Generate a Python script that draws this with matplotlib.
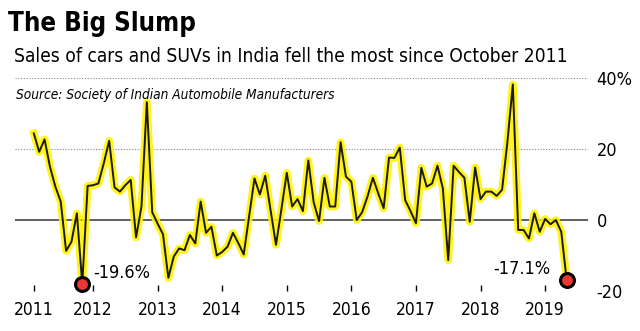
import numpy as np
import matplotlib
matplotlib.use("Agg")
import matplotlib.pyplot as plt

# Monthly year-on-year change in car & SUV sales, Jan 2011 - Apr 2019 (%)
sales_change = [
    24.4, 19.2, 22.7, 15.0, 9.4, 5.2, -8.7, -6.1, 1.9, -18.0,
    9.6, 9.8, 10.3, 16.0, 22.3, 9.2, 8.0, 9.8, 11.3, -4.9,
    3.8, 33.2, 2.2, -1.0, -4.0, -16.3, -10.3, -8.0, -8.5, -4.2,
    -6.6, 5.2, -3.6, -1.9, -10.0, -9.0, -7.5, -3.6, -6.5, -9.7,
    1.0, 11.7, 7.2, 12.5, 2.7, -7.0, 3.0, 13.3, 3.8, 5.9,
    2.5, 16.8, 5.0, -0.3, 11.9, 3.8, 3.8, 21.9, 12.2, 10.8,
    0.0, 2.2, 6.6, 11.9, 7.5, 3.3, 17.6, 17.5, 20.4, 5.6,
    2.5, -0.9, 14.7, 9.4, 10.3, 15.3, 8.9, -11.3, 15.3, 13.5,
    11.9, -0.5, 14.8, 5.9, 8.0, 8.0, 6.8, 8.5, 22.0, 38.2,
    -2.8, -2.8, -5.2, 1.9, -3.3, 0.3, -1.2, 0.0, -3.3, -16.8,
]
months = np.arange(len(sales_change))

year_labels = ["2011", "2012", "2013", "2014", "2015", "2016", "2017", "2018", "2019"]
year_ticks = [0, 11, 23, 35, 47, 59, 71, 83, 95]

y_ticks = [40, 20, 0, -20]
y_labels = ["40%", "20", "0", "-20"]

low_idx = [9, 99]
low_labels = ["-19.6%", "-17.1%"]

plt.rcParams["font.family"] = ["DejaVu Sans"]
plt.rcParams["font.stretch"] = "condensed"

fig = plt.figure(figsize=(6.4, 3.31), dpi=100)
ax = fig.add_axes([0.0234, 0.1208, 0.8956, 0.6435])

# grid
for v in [40, 20, -20]:
    ax.axhline(v, color="#888888", lw=0.8, ls=(0, (1, 1.5)), zorder=1)
ax.axhline(0, color="#444444", lw=1.2, zorder=1)

# glowing line
ax.plot(months, sales_change, color="#fff200", lw=5.5, solid_joinstyle="round",
        alpha=0.9, zorder=2)
ax.plot(months, sales_change, color="#1a1a1a", lw=1.4, zorder=3)

# low points
ax.plot(months[low_idx], np.array(sales_change)[low_idx], "o", ms=10,
        mfc="#e83a32", mec="black", mew=2.2, zorder=4, clip_on=False)
ax.annotate(low_labels[0], (months[low_idx[0]], sales_change[low_idx[0]]),
            xytext=(8, 8), textcoords="offset points", fontsize=13,
            ha="left", va="center")
ax.annotate(low_labels[1], (months[low_idx[1]], sales_change[low_idx[1]]),
            xytext=(-12, 8), textcoords="offset points", fontsize=13,
            ha="right", va="center")

ax.set_xlim(-3.5, 103)
ax.set_ylim(-20, 40)

ax.set_xticks(year_ticks)
ax.set_xticklabels(year_labels, fontsize=12.5)
ax.tick_params(axis="x", direction="in", length=4, width=1, pad=7)

ax.yaxis.tick_right()
ax.set_yticks(y_ticks)
ax.set_yticklabels(y_labels, fontsize=13)
ax.tick_params(axis="y", length=0, pad=6)

for s in ax.spines.values():
    s.set_visible(False)

fig.text(0.012, 0.905, "The Big Slump", fontsize=18.5, fontweight="bold", ha="left")
fig.text(0.022, 0.812, "Sales of cars and SUVs in India fell the most since October 2011",
         fontsize=13.8, ha="left")
fig.text(0.025, 0.70, "Source: Society of Indian Automobile Manufacturers",
         fontsize=9.8, style="italic", ha="left")

fig.savefig("out.png", dpi=100)
